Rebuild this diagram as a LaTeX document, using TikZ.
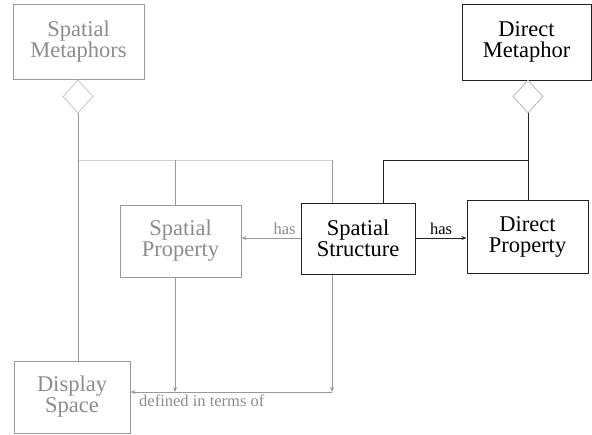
\documentclass[tikz,border=0pt]{standalone}
\usepackage{fontspec}
\setmainfont{Liberation Serif}
\usetikzlibrary{shapes.geometric,arrows.meta}
\definecolor{gtext}{HTML}{8C8C8C}
\definecolor{gline}{HTML}{999999}
\definecolor{glight}{HTML}{D2D2D2}
\definecolor{kline}{HTML}{222222}
\tikzset{
  box/.style={draw, line width=1pt, inner sep=0pt, align=center,
    font=\rmfamily\fontsize{22.5}{21}\selectfont},
  gbox/.style={box, draw=gline, text=gtext},
  kbox/.style={box, draw=kline, text=black},
  agg/.style={diamond, draw, line width=0.6pt, minimum width=30pt, minimum height=33pt, inner sep=0pt, fill=white},
  gl/.style={draw=gline, line width=1pt},
  kl/.style={draw=kline, line width=1pt},
  tip/.style={-{Stealth[length=5pt,width=4pt]}},
  lbl/.style={font=\rmfamily\fontsize{16.5}{18}\selectfont, inner sep=0pt}
}
\begin{document}
\begin{tikzpicture}[x=1pt,y=1pt]
\useasboundingbox (0,0) rectangle (592,-434);
% boxes
\node[gbox, minimum width=131pt, minimum height=75pt] (sm) at (78.5,-42) {Spatial\\Metaphors};
\node[kbox, minimum width=129pt, minimum height=76pt] (dm) at (526.5,-42) {Direct\\Metaphor};
\node[gbox, minimum width=121pt, minimum height=72pt] (sp) at (180.5,-241) {Spatial\\Property};
\node[kbox, minimum width=114pt, minimum height=71pt] (ss) at (358,-238.5) {Spatial\\Structure};
\node[kbox, minimum width=121pt, minimum height=73pt] (dp) at (527.5,-236.5) {Direct\\Property};
\node[gbox, minimum width=116pt, minimum height=72pt] (ds) at (72,-397) {Display\\Space};
% aggregation diamonds
\node[agg, draw=gline!70] (d1) at (78,-96.5) {};
\node[agg, draw=gline!110!black] (d2) at (528,-96.5) {};
% junction coordinates
\coordinate (gj) at (78,-160);
\coordinate (gsp) at (175,-160);
\coordinate (gss) at (332,-160);
\coordinate (kss) at (383,-160);
\coordinate (kdp) at (528,-160);
\coordinate (spb) at (175,-392);
\coordinate (ssb) at (332,-392);
% spatial metaphors aggregation (gray)
\draw[draw=glight, line width=1pt] (gj) -- (gss);
\draw[gl] (d1.south) -- (d1.south |- ds.north);
\draw[gl] (gsp) -- (gsp |- sp.north);
\draw[gl] (gss) -- (gss |- ss.north);
% direct metaphor aggregation (black)
\draw[kl] (d2.south) -- (d2.south |- dp.north);
\draw[kl] (kss) -- (kdp);
\draw[kl] (kss) -- (kss |- ss.north);
% has arrows
\draw[gl, tip] (ss.west |- 0,-238) -- node[lbl, above=3pt, text=gtext, pos=0.27] {has} (sp.east |- 0,-238);
\draw[kl, tip] (ss.east |- 0,-238) -- node[lbl, above=3pt, text=black] {has} (dp.west |- 0,-238);
% defined in terms of
\draw[gl, tip] (sp.south -| spb) -- (spb);
\draw[gl, tip] (ss.south -| ssb) -- (ssb);
\draw[gl, tip] (ssb) -- (ds.east |- ssb);
\node[lbl, text=gtext, anchor=north west] (dit) at (139,-395) {defined in terms of};
\end{tikzpicture}
\end{document}
